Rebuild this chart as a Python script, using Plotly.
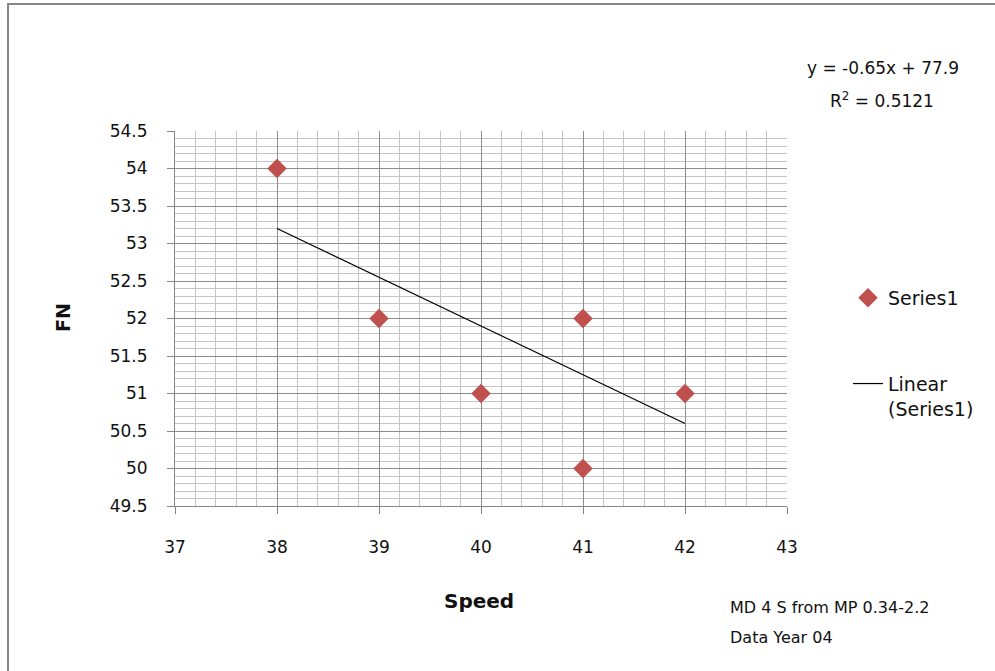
import plotly.graph_objects as go

# Speed vs. friction number (FN) observations
speed = [38, 39, 40, 41, 41, 42]
fn = [54, 52, 51, 52, 50, 51]

# Linear trendline parameters (least squares, as reported)
slope = -0.65
intercept = 77.9
r_squared = 0.5121

x_ticks = [37, 38, 39, 40, 41, 42, 43]
y_ticks = [49.5, 50, 50.5, 51, 51.5, 52, 52.5, 53, 53.5, 54, 54.5]
y_tick_text = ["49.5", "50", "50.5", "51", "51.5", "52", "52.5", "53", "53.5", "54", "54.5"]

trend_x = [min(speed), max(speed)]
trend_y = [slope * v + intercept for v in trend_x]

FONT = "DejaVu Sans, Verdana, sans-serif"
W, H = 995, 671
L, R, T, B = 175, 208, 131, 165
pw, ph = W - L - R, H - T - B


def px_to_paper(px, py):
    return (px - L) / pw, (H - B - py) / ph


fig = go.Figure()
fig.add_trace(go.Scatter(
    x=speed, y=fn, mode="markers", name="Series1",
    marker=dict(symbol="diamond", size=15, color="#C0504D"),
    legendgroup="a",
))
fig.add_trace(go.Scatter(
    x=trend_x, y=trend_y, mode="lines", name="Linear<br>(Series1)",
    line=dict(color="#000000", width=1.2),
    legendgroup="b",
))

axis_common = dict(
    showline=True, linecolor="#868686", linewidth=1,
    ticks="outside", ticklen=7, tickcolor="#868686", tickwidth=1,
    showgrid=True, gridcolor="#8c8c8c", gridwidth=1,
    zeroline=False,
    tickfont=dict(family=FONT, size=17, color="#111111"),
)

fig.update_xaxes(
    range=[37, 43], tickvals=x_ticks, ticktext=[str(v) for v in x_ticks],
    ticklabelstandoff=19,
    minor=dict(dtick=0.2, tick0=37, showgrid=True, gridcolor="#c4c4c4", gridwidth=1, ticks=""),
    **axis_common,
)
fig.update_yaxes(
    range=[49.5, 54.5], tickvals=y_ticks, ticktext=y_tick_text,
    ticklabelstandoff=16,
    minor=dict(dtick=0.1, tick0=49.5, showgrid=True, gridcolor="#c4c4c4", gridwidth=1, ticks=""),
    **axis_common,
)

annotations = []
# equation and R² label
ex, ey = px_to_paper(883, 68)
annotations.append(dict(
    x=ex, y=ey, xref="paper", yref="paper", showarrow=False,
    text=f"y = {slope}x + {intercept}", font=dict(family=FONT, size=17, color="#111"),
    xanchor="center", yanchor="middle",
))
rx, ry = px_to_paper(882, 100)
annotations.append(dict(
    x=rx, y=ry, xref="paper", yref="paper", showarrow=False,
    text=f"R<sup>2</sup> = {r_squared}", font=dict(family=FONT, size=17, color="#111"),
    xanchor="center", yanchor="middle",
))
# axis titles
sx, sy = px_to_paper(479, 601)
annotations.append(dict(
    x=sx, y=sy, xref="paper", yref="paper", showarrow=False,
    text="<b>Speed</b>", font=dict(family=FONT, size=20, color="#111"),
    xanchor="center", yanchor="middle",
))
fx, fy = px_to_paper(63, 318)
annotations.append(dict(
    x=fx, y=fy, xref="paper", yref="paper", showarrow=False, textangle=-90,
    text="<b>FN</b>", font=dict(family=FONT, size=19, color="#111"),
    xanchor="center", yanchor="middle",
))
# source notes
for label, py in [("MD 4 S from MP 0.34-2.2", 607), ("Data Year 04", 637)]:
    nx, ny = px_to_paper(728, py)
    annotations.append(dict(
        x=nx, y=ny, xref="paper", yref="paper", showarrow=False,
        text=label, font=dict(family=FONT, size=16, color="#111"),
        xanchor="left", yanchor="middle",
    ))

ox0, oy1 = px_to_paper(8, 4)
fig.add_shape(type="rect", xref="paper", yref="paper",
              x0=ox0, x1=3, y0=-3, y1=oy1,
              line=dict(color="#868686", width=2), fillcolor="rgba(0,0,0,0)", layer="below")

lx, ly = px_to_paper(848, 279)
fig.update_layout(
    width=W, height=H,
    margin=dict(l=L, r=R, t=T, b=B),
    paper_bgcolor="#ffffff", plot_bgcolor="#ffffff",
    annotations=annotations,
    showlegend=True,
    legend=dict(
        x=lx, y=ly, xanchor="left", yanchor="top",
        font=dict(family=FONT, size=19, color="#111"),
        traceorder="grouped", tracegroupgap=58, valign="top",
        bgcolor="rgba(0,0,0,0)", itemwidth=30,
    ),
)

fig.write_html("out.html")
